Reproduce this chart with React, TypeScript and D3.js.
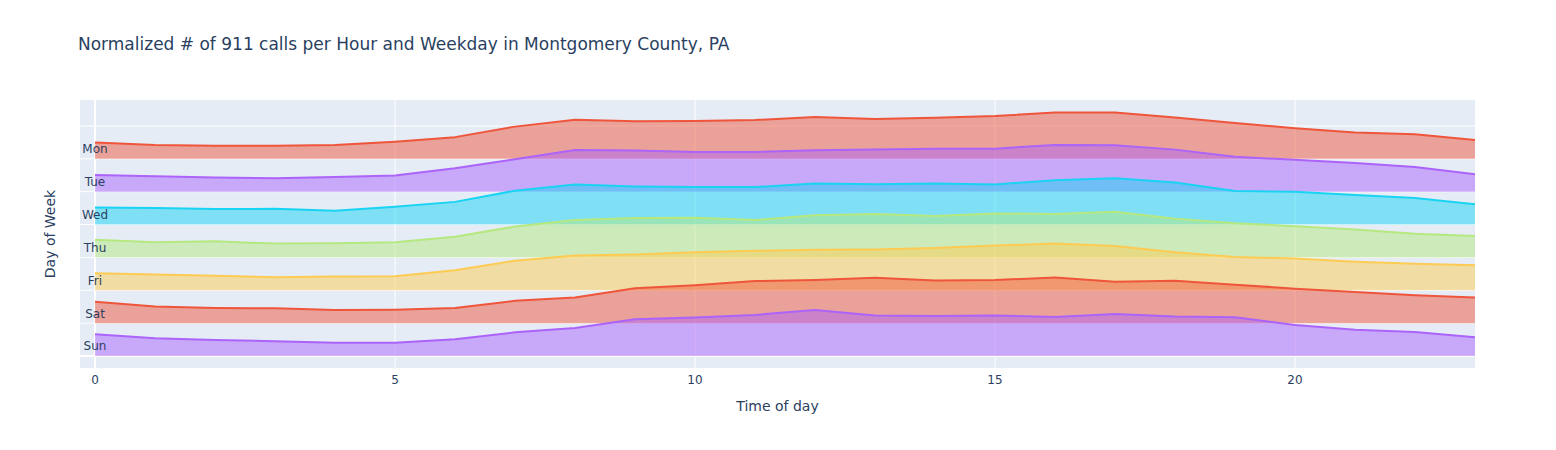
import * as d3 from "d3";

const WIDTH = 1556;
const HEIGHT = 450;
const PLOT = { left: 80, right: 1475, top: 100, bottom: 368 };

const hours = d3.range(0, 24);
const days = ["Mon", "Tue", "Wed", "Thu", "Fri", "Sat", "Sun"];
const dayColors = ["#EF553B", "#AB63FA", "#19D3F3", "#B6E880", "#FECB52", "#EF553B", "#AB63FA"];
const xTicks = [0, 5, 10, 15, 20];

// normalized call volume per hour, one array per weekday
const mon = [0.50, 0.42, 0.40, 0.40, 0.42, 0.52, 0.66, 0.98, 1.19, 1.14, 1.15, 1.18, 1.27, 1.21, 1.25, 1.30, 1.41, 1.41, 1.26, 1.09, 0.93, 0.80, 0.75, 0.57];
const tue = [0.51, 0.47, 0.43, 0.41, 0.45, 0.49, 0.71, 0.99, 1.27, 1.25, 1.21, 1.21, 1.26, 1.28, 1.31, 1.31, 1.42, 1.41, 1.28, 1.06, 0.97, 0.87, 0.75, 0.53];
const wed = [0.52, 0.50, 0.47, 0.48, 0.42, 0.54, 0.69, 1.03, 1.22, 1.16, 1.14, 1.14, 1.25, 1.23, 1.25, 1.22, 1.35, 1.41, 1.28, 1.02, 1.00, 0.90, 0.81, 0.62];
const thu = [0.54, 0.46, 0.49, 0.42, 0.43, 0.46, 0.63, 0.94, 1.14, 1.20, 1.21, 1.14, 1.28, 1.32, 1.26, 1.34, 1.32, 1.39, 1.18, 1.04, 0.95, 0.85, 0.72, 0.65];
const fri = [0.52, 0.48, 0.44, 0.40, 0.42, 0.43, 0.61, 0.90, 1.06, 1.09, 1.16, 1.20, 1.23, 1.24, 1.29, 1.36, 1.42, 1.35, 1.16, 1.01, 0.97, 0.87, 0.81, 0.76];
const sat = [0.65, 0.51, 0.46, 0.45, 0.40, 0.41, 0.46, 0.68, 0.78, 1.06, 1.15, 1.28, 1.31, 1.38, 1.30, 1.31, 1.39, 1.26, 1.29, 1.17, 1.05, 0.95, 0.85, 0.78];
const sun = [0.66, 0.54, 0.49, 0.45, 0.40, 0.40, 0.51, 0.72, 0.85, 1.12, 1.17, 1.25, 1.40, 1.23, 1.22, 1.23, 1.19, 1.28, 1.20, 1.18, 0.94, 0.80, 0.73, 0.57];

const series = [mon, tue, wed, thu, fri, sat, sun];

const FONT = '"DejaVu Sans", verdana, arial, sans-serif';
const TEXT = "#2a3f5f";

export default function App() {
  const x = d3.scaleLinear().domain([-0.25, 23]).range([PLOT.left, PLOT.right]);
  // each weekday gets an offset: Sun at 0, Mon at 6
  const y = d3.scaleLinear().domain([-0.365, 7.79]).range([PLOT.bottom, PLOT.top]);
  const offset = (i: number) => days.length - 1 - i;
  const gridRows = d3.range(0, 8);

  return (
    <div style={{ position: "absolute", left: 0, top: 0 }}>
      <svg width={WIDTH} height={HEIGHT} style={{ display: "block", fontFamily: FONT }}>
        <defs>
          <clipPath id="plot-clip">
            <rect x={PLOT.left} y={PLOT.top} width={PLOT.right - PLOT.left} height={PLOT.bottom - PLOT.top} />
          </clipPath>
        </defs>
        <rect x={0} y={0} width={WIDTH} height={HEIGHT} fill="#fff" />
        <rect
          x={PLOT.left}
          y={PLOT.top}
          width={PLOT.right - PLOT.left}
          height={PLOT.bottom - PLOT.top}
          fill="#E5ECF6"
        />

        {/* grid */}
        {xTicks.map((t) => (
          <line
            key={"gx" + t}
            x1={x(t)}
            x2={x(t)}
            y1={PLOT.top}
            y2={PLOT.bottom}
            stroke="#fff"
            strokeWidth={t === 0 ? 2 : 1}
          />
        ))}
        {gridRows.map((r) => (
          <line
            key={"gy" + r}
            x1={PLOT.left}
            x2={PLOT.right}
            y1={y(r)}
            y2={y(r)}
            stroke="#fff"
            strokeWidth={r === 0 ? 2 : 1}
          />
        ))}

        <g clipPath="url(#plot-clip)">
          {series.map((vals, i) => {
            const base = offset(i);
            const area = d3
              .area<number>()
              .x((_, h) => x(hours[h]))
              .y0(y(base))
              .y1((v) => y(base + v));
            const line = d3
              .line<number>()
              .x((_, h) => x(hours[h]))
              .y((v) => y(base + v));
            return (
              <g key={days[i]}>
                <path d={area(vals) ?? ""} fill={dayColors[i]} fillOpacity={0.5} />
                <path d={line(vals) ?? ""} fill="none" stroke={dayColors[i]} strokeWidth={2} strokeLinejoin="round" />
              </g>
            );
          })}
        </g>

        {/* day labels */}
        {days.map((d, i) => (
          <text
            key={"lbl" + d}
            x={x(0)}
            y={y(offset(i) + 0.17)}
            textAnchor="middle"
            fontSize={12}
            fill={TEXT}
          >
            {d}
          </text>
        ))}

        {/* x axis ticks */}
        {xTicks.map((t) => (
          <text key={"xt" + t} x={x(t)} y={384} textAnchor="middle" fontSize={12} fill={TEXT}>
            {t}
          </text>
        ))}

        <text x={(PLOT.left + PLOT.right) / 2} y={411} textAnchor="middle" fontSize={14} fill={TEXT}>
          Time of day
        </text>
        <text
          transform={`translate(55, ${(PLOT.top + PLOT.bottom) / 2}) rotate(-90)`}
          textAnchor="middle"
          fontSize={14}
          fill={TEXT}
        >
          Day of Week
        </text>
        <text x={78} y={50} fontSize={17} fill={TEXT}>
          Normalized # of 911 calls per Hour and Weekday in Montgomery County, PA
        </text>
      </svg>
    </div>
  );
}
